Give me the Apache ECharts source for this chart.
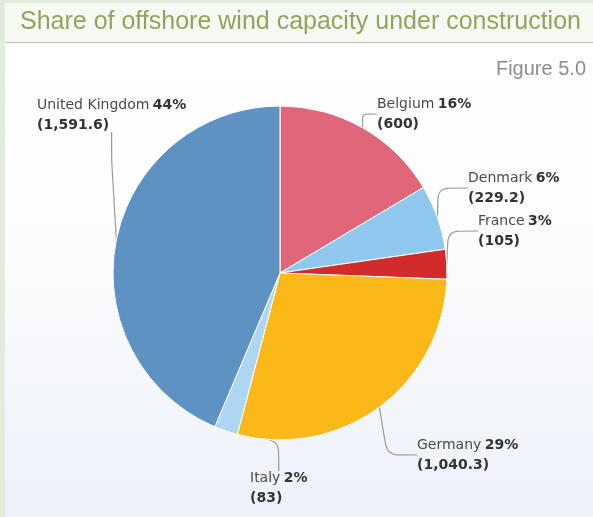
<!DOCTYPE html>
<html>
<head>
<meta charset="utf-8">
<script src="https://cdn.jsdelivr.net/npm/echarts@6/dist/echarts.min.js"></script>
<style>
  html, body { margin: 0; padding: 0; background: #e2ebdc; }
  #chart { width: 593px; height: 517px; }
</style>
</head>
<body>
<div id="chart"></div>
<script>
// Offshore wind capacity under construction, by country (MW)
const countries = ['Belgium', 'Denmark', 'France', 'Germany', 'Italy', 'United Kingdom'];
const capacity = [600, 229.2, 105, 1040.3, 83, 1591.6];
const sliceColors = ['#e0667a', '#8ec8ee', '#d22b2b', '#fbb819', '#acd6f2', '#5e92c2'];

const titleText = 'Share of offshore wind capacity under construction';
const figureText = 'Figure 5.0';

// Where each callout sits (left edge, top of first line)
const labelSpots = {
  'Belgium': [377, 94],
  'Denmark': [468, 168],
  'France': [478, 211],
  'Germany': [417, 435],
  'Italy': [250, 468],
  'United Kingdom': [37, 95]
};

const fmt = v => v.toLocaleString('en-US', { maximumFractionDigits: 1 });

const chart = echarts.init(document.getElementById('chart'));

chart.setOption({
  animation: false,
  backgroundColor: '#e2ebdc',
  graphic: [
    { type: 'rect', shape: { x: 5, y: 3, width: 588, height: 40 }, style: { fill: '#f7faf3' }, z: -10 },
    { type: 'rect', shape: { x: 5, y: 43, width: 588, height: 474 },
      style: { fill: new echarts.graphic.LinearGradient(0, 0, 0, 1, [
        { offset: 0, color: '#ffffff' },
        { offset: 0.45, color: '#fbfcfd' },
        { offset: 1, color: '#edf1f9' }
      ]) }, z: -10 },
    { type: 'line', shape: { x1: 5, y1: 42.5, x2: 593, y2: 42.5 }, style: { stroke: '#c9cbc8', lineWidth: 1.5 }, z: -9 },
    { type: 'text', left: 20, top: 10,
      style: { text: titleText, fill: '#8ea55e', font: '25px "Liberation Sans", Arial, sans-serif' } },
    { type: 'text', right: 7, top: 59,
      style: { text: figureText, fill: '#8c8c8c', font: '20px "Liberation Sans", Arial, sans-serif' } }
  ],
  series: [{
    type: 'pie',
    center: [280, 273],
    radius: [0, 167],
    startAngle: 90,
    clockwise: true,
    itemStyle: { borderColor: '#ffffff', borderWidth: 1 },
    data: countries.map((name, i) => ({
      name: name,
      value: capacity[i],
      itemStyle: { color: sliceColors[i] }
    })),
    label: {
      show: true,
      position: 'outside',
      overflow: 'none',
      formatter: p => '{n|' + p.name + '} {b|' + Math.round(p.percent) + '%}\n{b|(' + fmt(p.value) + ')}',
      rich: {
        n: { fontFamily: 'DejaVu Sans', fontSize: 14, color: '#4a4a4a', lineHeight: 20 },
        b: { fontFamily: 'DejaVu Sans', fontSize: 14, fontWeight: 'bold', color: '#333333', lineHeight: 20 }
      }
    },
    labelLine: {
      show: true,
      smooth: 0.2,
      lineStyle: { color: '#9a9a9a', width: 1.2 }
    },
    labelLayout: params => {
      const name = countries[params.dataIndex];
      const spot = labelSpots[name];
      return { x: spot[0], y: spot[1], align: 'left', verticalAlign: 'top', moveOverlap: false };
    },
    emphasis: { disabled: true }
  }]
});
</script>
</body>
</html>
